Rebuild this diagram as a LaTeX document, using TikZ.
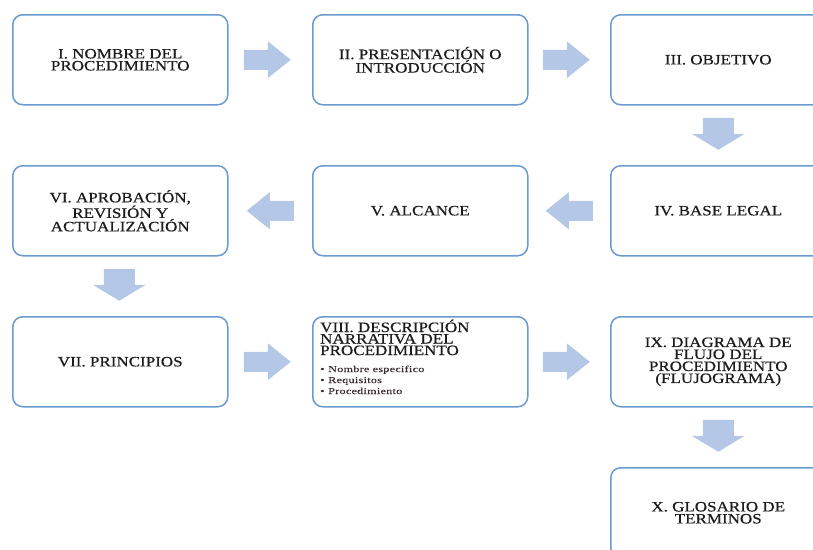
\documentclass[tikz,border=0pt]{standalone}
\usepackage{fontspec}
\setmainfont{Liberation Serif}
\newfontfamily\boxfont[FakeStretch=1.19,FakeBold=0.6]{Liberation Serif}
\newfontfamily\itemfont[FakeStretch=1.35,LetterSpace=3,FakeBold=0.4]{Liberation Serif}
\usetikzlibrary{calc}

\definecolor{boxline}{HTML}{6A9AD0}
\definecolor{arrowfill}{HTML}{B4C7E7}
\definecolor{inktext}{HTML}{1C1C1C}
\definecolor{itemtext}{HTML}{3A2E33}

\begin{document}
\begin{tikzpicture}[x=1pt,y=-1pt,
  stepbox/.style={draw=boxline, line width=1.5pt, rounded corners=10pt,
    minimum width=215pt, minimum height=90pt, inner sep=0pt,
    anchor=north west, align=center, text=inktext,
    font=\boxfont\fontsize{14.3}{12}\selectfont},
  titleline/.style={anchor=base west, inner sep=0pt, text=inktext,
    font=\boxfont\fontsize{14.3}{12}\selectfont},
  itemline/.style={anchor=base west, inner sep=0pt, text=itemtext,
    font=\itemfont\fontsize{9}{11}\selectfont},
  rarrow/.pic={
    \fill[arrowfill] (-23.5,-10) -- (0.5,-10) -- (0.5,-18.5) -- (23.5,0)
      -- (0.5,18.5) -- (0.5,10) -- (-23.5,10) -- cycle;},
  darrow/.pic={
    \fill[arrowfill] (-15.5,-16) -- (-15.5,0) -- (-26.5,0) -- (0,16)
      -- (26.5,0) -- (15.5,0) -- (15.5,-16) -- cycle;}
]
\useasboundingbox (0,0) rectangle (813,549);
\clip (0,0) rectangle (813,549);

% row 1
\node[stepbox] (b1) at (12,14) {I. NOMBRE DEL\\PROCEDIMIENTO};
\node[stepbox] (b2) at (312,14) {II. PRESENTACIÓN O\\INTRODUCCIÓN};
\node[stepbox] (b3) at (610,14) {III. OBJETIVO};
% row 2
\node[stepbox] (b4) at (610,165) {IV. BASE LEGAL};
\node[stepbox] (b5) at (312,165) {V. ALCANCE};
\node[stepbox] (b6) at (12,165) {VI. APROBACIÓN,\\REVISIÓN Y\\ACTUALIZACIÓN};
% row 3
\node[stepbox] (b7) at (12,316) {VII. PRINCIPIOS};
\node[stepbox] (b8) at (312,316) {};
\node[stepbox] (b9) at (610,316) {IX. DIAGRAMA DE\\FLUJO DEL\\PROCEDIMIENTO\\(FLUJOGRAMA)};
% row 4
\node[stepbox] (b10) at (610,467) {X. GLOSARIO DE\\TERMINOS};

% heading and bullet list of box VIII
\node[titleline] (t8a) at ($(b8.north west)+(8,16)$) {VIII. DESCRIPCIÓN};
\node[titleline] (t8b) at ($(b8.north west)+(8,27.5)$) {NARRATIVA DEL};
\node[titleline] (t8c) at ($(b8.north west)+(8,39)$) {PROCEDIMIENTO};
\foreach \k/\txt [count=\i] in {0/Nombre especifico, 11/Requisitos, 22/Procedimiento}{
  \node[itemline] (m8-\i) at ($(b8.north west)+(8,56+\k)$) {•};
  \node[itemline] (i8-\i) at ($(b8.north west)+(16,56+\k)$) {\txt};
}

% block arrows between the steps
\pic at ($(b1.east)!0.5!(b2.west)+(-3,0)$) {rarrow};
\pic at ($(b2.east)!0.5!(b3.west)+(-3,0)$) {rarrow};
\pic at ($(b3.south)!0.5!(b4.north)+(0,-1.5)$) {darrow};
\pic[rotate=180] at ($(b4.west)!0.5!(b5.east)$) {rarrow};
\pic[rotate=180] at ($(b5.west)!0.5!(b6.east)$) {rarrow};
\pic at ($(b6.south)!0.5!(b7.north)+(-1,-1.5)$) {darrow};
\pic at ($(b7.east)!0.5!(b8.west)+(-3,0)$) {rarrow};
\pic at ($(b8.east)!0.5!(b9.west)+(-3,0)$) {rarrow};
\pic at ($(b9.south)!0.5!(b10.north)+(0,-1.5)$) {darrow};
\end{tikzpicture}
\end{document}
